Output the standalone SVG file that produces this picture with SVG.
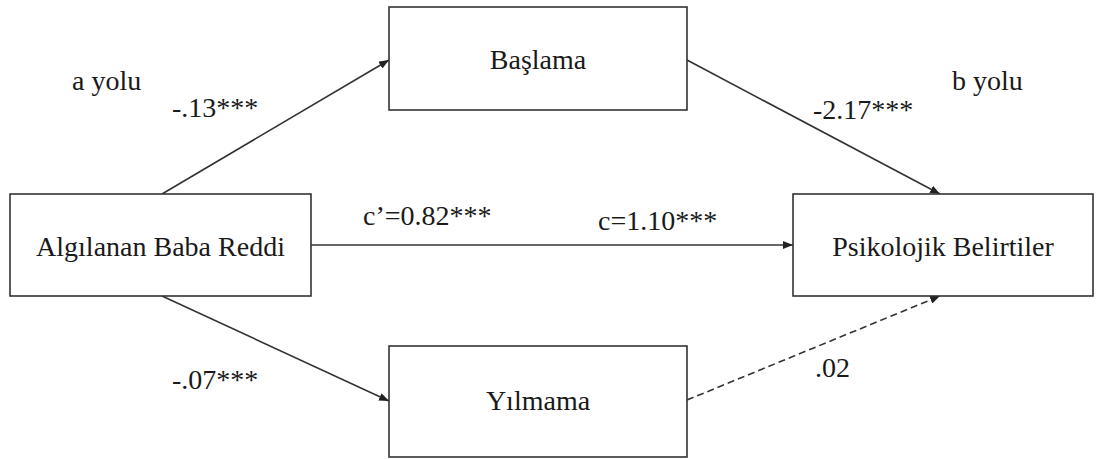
<svg xmlns="http://www.w3.org/2000/svg" width="1097" height="459" viewBox="0 0 1097 459">
<style>
.box{fill:#fff;stroke:#333;stroke-width:1.6}
.t{font-family:'Liberation Serif','DejaVu Serif',serif;font-size:28px;fill:#1a1a1a}
.c{text-anchor:middle}
.ln{stroke:#333;stroke-width:1.6;fill:none}
.dash{stroke-dasharray:7 4}
</style>
<defs>
<marker id="ah" markerWidth="10" markerHeight="8" refX="10" refY="4" orient="auto" markerUnits="userSpaceOnUse">
<path d="M0,0 L10,4 L0,8 Z" fill="#222"/>
</marker>
</defs>
<rect width="1097" height="459" fill="#fff"/>
<g id="connectors">
<line class="ln" x1="162" y1="194" x2="389" y2="60" marker-end="url(#ah)"/>
<line class="ln" x1="687" y1="60" x2="940" y2="194" marker-end="url(#ah)"/>
<line class="ln" x1="311" y1="245" x2="793" y2="245" marker-end="url(#ah)"/>
<line class="ln" x1="162" y1="296" x2="389" y2="401" marker-end="url(#ah)"/>
<line class="ln dash" x1="687" y1="400" x2="940" y2="296" marker-end="url(#ah)"/>
</g>
<g id="node-basla">
<rect class="box" x="389" y="7" width="298" height="103"/>
<text class="t c" x="538" y="69">Başlama</text>
</g>
<g id="node-yilma">
<rect class="box" x="389" y="346" width="298" height="111"/>
<text class="t c" x="538" y="410">Yılmama</text>
</g>
<g id="node-algi">
<rect class="box" x="10" y="194" width="301" height="102"/>
<text class="t c" x="160.5" y="256">Algılanan Baba Reddi</text>
</g>
<g id="node-psiko">
<rect class="box" x="793" y="194" width="300" height="102"/>
<text class="t c" x="943" y="256">Psikolojik Belirtiler</text>
</g>
<g id="labels">
<text class="t" x="72" y="90">a yolu</text>
<text class="t" x="952" y="90">b yolu</text>
<text class="t" x="172" y="117">-.13***</text>
<text class="t" x="813" y="119">-2.17***</text>
<text class="t" x="363" y="225">c’=0.82***</text>
<text class="t" x="598" y="230">c=1.10***</text>
<text class="t" x="172" y="389">-.07***</text>
<text class="t" x="815" y="377">.02</text>
</g>
</svg>
